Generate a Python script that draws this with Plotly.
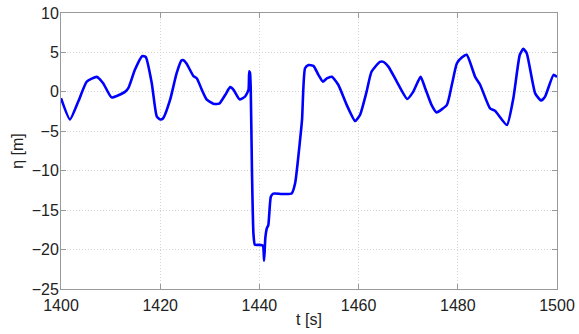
import plotly.graph_objects as go

t = [1400.0, 1401.8, 1403.5, 1405.2, 1407.2, 1408.5, 1410.2, 1412.9, 1413.6, 1414.9, 1416.4, 1417.1,
     1418.3, 1419.3, 1420.0, 1420.6, 1422.0, 1423.3, 1424.3, 1424.7, 1425.3, 1426.7, 1427.4, 1428.4,
     1429.4, 1430.7, 1431.9, 1433.1, 1434.1, 1434.8, 1436.0, 1437.1, 1437.8, 1437.95, 1438.1, 1438.25,
     1438.5, 1438.8, 1439.1, 1440.0, 1440.7, 1440.95, 1441.2, 1441.5, 1441.8, 1442.3, 1442.8, 1444.5,
     1446.5, 1447.2, 1448.2, 1448.6, 1449.2, 1449.9, 1450.9, 1451.9, 1452.8, 1453.6, 1454.6, 1455.9,
     1457.6, 1459.3, 1460.3, 1461.6, 1462.6, 1464.3, 1465.0, 1466.0, 1467.7, 1469.8, 1471.0, 1472.5,
     1473.4, 1474.7, 1475.7, 1477.8, 1478.8, 1479.8, 1480.8, 1481.8, 1483.5, 1484.5, 1486.5, 1487.5,
     1489.9, 1491.2, 1492.5, 1493.2, 1493.9, 1495.6, 1496.8, 1497.6, 1499.3, 1500.0]
eta = [-0.8, -3.5, -1.2, 1.3, 1.9, 1.1, -0.7, 0.0, 0.5, 2.8, 4.55, 4.4,
       1.1, -3.1, -3.5, -3.35, -1.0, 2.35, 4.0, 4.0, 3.6, 2.0, 1.7, 0.25,
       -1.0, -1.5, -1.5, -0.4, 0.6, 0.25, -0.95, -0.6, 0.25, 2.6, 2.4, 0.5,
       -10.0, -18.0, -19.4, -19.4, -19.5, -21.4, -18.5, -17.3, -16.9, -13.3, -12.9, -12.95,
       -12.9, -11.6, -6.1, -3.5, 3.0, 3.4, 3.3, 2.15, 1.3, 1.7, 1.9, 0.9,
       -1.65, -3.7, -2.9, 0.0, 2.55, 3.8, 3.8, 3.2, 1.3, -0.9, 0.0, 1.9,
       0.5, -1.65, -2.6, -1.65, 0.9, 3.6, 4.35, 4.7, 1.9, 0.9, -2.1, -2.4,
       -4.2, -0.8, 4.7, 5.45, 4.9, -0.2, -1.1, -0.6, 2.15, 1.9]

x_ticks = [1400, 1420, 1440, 1460, 1480, 1500]
y_ticks = [10, 5, 0, -5, -10, -15, -20, -25]

FONT = "Liberation Sans, Arial"
fig = go.Figure()
fig.add_trace(go.Scatter(x=t, y=eta, mode="lines",
                         line=dict(color="#0000FF", width=2.6, shape="spline", smoothing=0.5),
                         showlegend=False))

axis_common = dict(showline=True, linecolor="#999999", linewidth=1, mirror="ticks",
                   ticks="inside", ticklen=5, tickcolor="#999999",
                   showgrid=True, gridcolor="#d4d4d4", griddash="1px,2px", gridwidth=1,
                   zeroline=False, automargin=False,
                   tickfont=dict(family=FONT, size=16, color="#222222"))

fig.update_xaxes(range=[1400, 1500], tickvals=x_ticks, ticklabelstandoff=2,
                 title=dict(text="t [s]", font=dict(family=FONT, size=16, color="#222222"), standoff=0),
                 **axis_common)
fig.update_yaxes(range=[-25, 10], tickvals=y_ticks, ticklabelstandoff=-2,
                 title=dict(text="η [m]", font=dict(family=FONT, size=16, color="#222222"), standoff=4),
                 **axis_common)

fig.update_layout(width=579, height=334, margin=dict(l=61, r=22, t=13, b=45),
                  paper_bgcolor="white", plot_bgcolor="white")

fig.write_html("out.html")
